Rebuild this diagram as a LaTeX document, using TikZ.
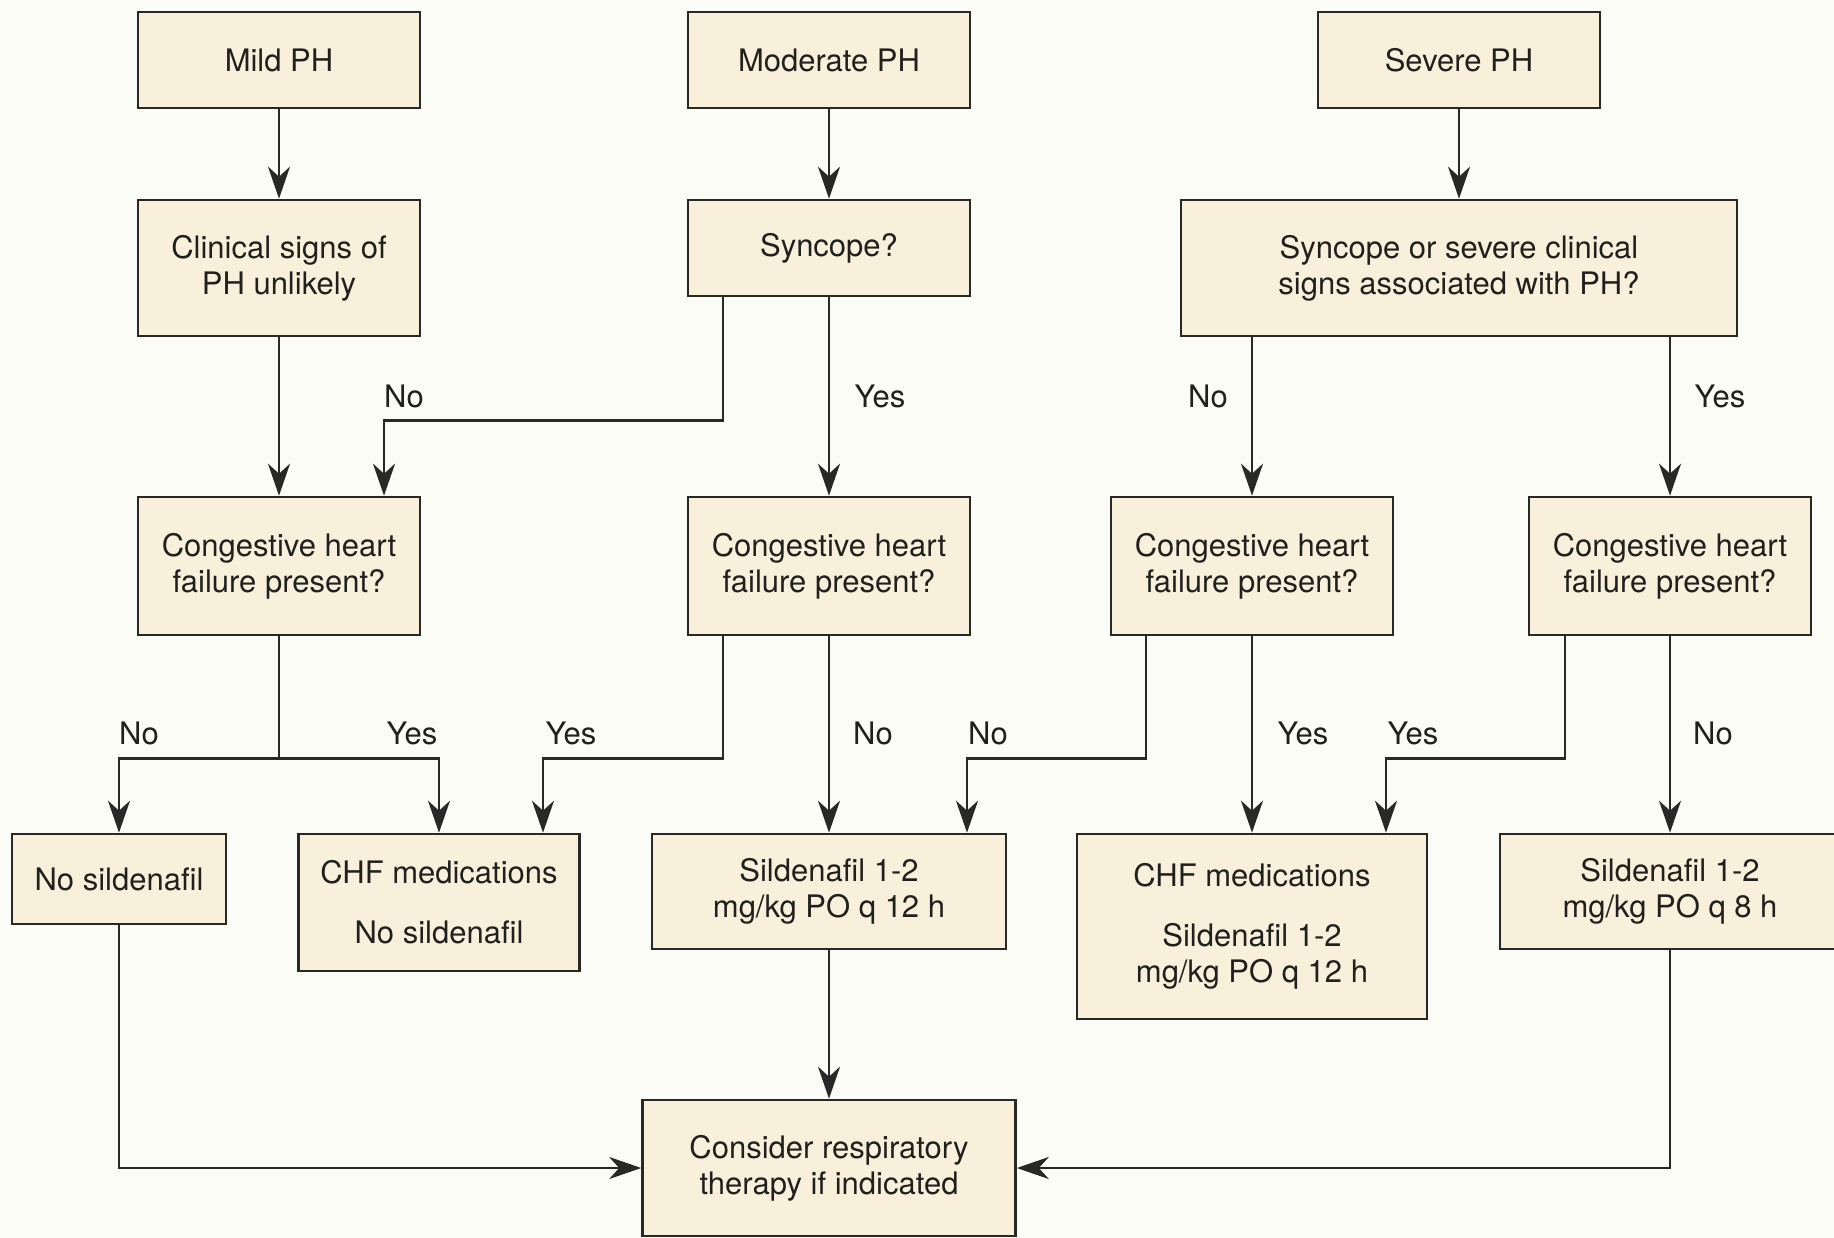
\documentclass[tikz,border=0pt]{standalone}
\usepackage{fontspec}
\setmainfont{TeX Gyre Heros}
\usetikzlibrary{arrows.meta}
\definecolor{bgcol}{RGB}{252,252,247}
\definecolor{boxfill}{RGB}{248,240,218}
\definecolor{linecol}{RGB}{40,40,38}
\definecolor{txtcol}{RGB}{32,32,30}
\begin{document}
\begin{tikzpicture}[x=1pt,y=-1pt,
  box/.style={draw=linecol,fill=boxfill,line width=2.6pt,inner sep=0pt,align=center,
    text=txtcol,font=\fontsize{31}{36}\selectfont},
  lbl/.style={text=txtcol,font=\fontsize{31}{36}\selectfont,inner sep=0pt},
  conn/.style={draw=linecol,line width=2.6pt},
  arr/.style={conn,-{Stealth[length=32pt,width=22pt,inset=10pt]}}]
\fill[bgcol] (0,0) rectangle (1834,1238);
\useasboundingbox (0,0) rectangle (1834,1238);
% top row
\node[box,minimum width=282pt,minimum height=96pt] (mild) at (279,60) {Mild PH};
\node[box,minimum width=282pt,minimum height=96pt] (mod) at (829,60) {Moderate PH};
\node[box,minimum width=282pt,minimum height=96pt] (sev) at (1459,60) {Severe PH};
% second row
\node[box,minimum width=282pt,minimum height=136pt] (clin) at (279,268) {Clinical signs of\\PH unlikely};
\node[box,minimum width=282pt,minimum height=96pt] (sync) at (829,248) {Syncope?};
\node[box,minimum width=556pt,minimum height=136pt] (sevq) at (1459,268) {Syncope or severe clinical\\signs associated with PH?};
% third row
\node[box,minimum width=282pt,minimum height=138pt] (chf1) at (279,566) {Congestive heart\\failure present?};
\node[box,minimum width=282pt,minimum height=138pt] (chf2) at (829,566) {Congestive heart\\failure present?};
\node[box,minimum width=282pt,minimum height=138pt] (chf3) at (1252,566) {Congestive heart\\failure present?};
\node[box,minimum width=282pt,minimum height=138pt] (chf4) at (1670,566) {Congestive heart\\failure present?};
% fourth row
\node[box,minimum width=214pt,minimum height=90pt] (nosil) at (119,879) {No sildenafil};
\node[box,minimum width=281pt,minimum height=137pt] (chfno) at (439,902.5) {CHF medications\\[24pt]No sildenafil};
\node[box,minimum width=354pt,minimum height=115pt] (sil12) at (829,891.5) {Sildenafil 1-2\\mg/kg PO q 12 h};
\node[box,minimum width=350pt,minimum height=185pt] (chfsil) at (1252,926.5) {CHF medications\\[24pt]Sildenafil 1-2\\mg/kg PO q 12 h};
\node[box,minimum width=340pt,minimum height=115pt] (sil8) at (1670,891.5) {Sildenafil 1-2\\mg/kg PO q 8 h};
% bottom
\node[box,minimum width=373pt,minimum height=136pt] (cons) at (829,1168) {Consider respiratory\\therapy if indicated};
% connectors
\draw[arr] (mild) -- (clin);
\draw[arr] (mod) -- (sync);
\draw[arr] (sev) -- (sevq);
\draw[arr] (clin) -- (chf1);
\draw[arr] ([xshift=-106pt]sync.south) -- ++(0,123) -| ([xshift=105pt]chf1.north);
\draw[arr] (sync) -- (chf2);
\draw[arr] (sevq.south -| chf3.north) -- (chf3.north);
\draw[arr] (sevq.south -| chf4.north) -- (chf4.north);
\draw[conn] (chf1.south) -- ++(0,122) coordinate (j1);
\draw[arr] (j1) -| (nosil.north);
\draw[arr] (j1) -| (chfno.north);
\draw[arr] ([xshift=-106pt]chf2.south) -- ++(0,122) -| ([xshift=104pt]chfno.north);
\draw[arr] (chf2) -- (sil12);
\draw[arr] ([xshift=-106pt]chf3.south) -- ++(0,122) -| ([xshift=138pt]sil12.north);
\draw[arr] (chf3) -- (chfsil);
\draw[arr] ([xshift=-105pt]chf4.south) -- ++(0,122) -| ([xshift=134pt]chfsil.north);
\draw[arr] (chf4) -- (sil8);
\draw[arr] (sil12) -- (cons);
\draw[arr] (nosil.south) |- (cons.west);
\draw[arr] (sil8.south) |- (cons.east);
% labels
\node[lbl] (l1) at (404,396) {No};
\node[lbl] (l2) at (880,396) {Yes};
\node[lbl] (l3) at (1208,396) {No};
\node[lbl] (l4) at (1720,396) {Yes};
\node[lbl] (l5) at (139,733) {No};
\node[lbl] (l6) at (412,733) {Yes};
\node[lbl] (l7) at (571,733) {Yes};
\node[lbl] (l8) at (873,733) {No};
\node[lbl] (l9) at (988,733) {No};
\node[lbl] (l10) at (1303,733) {Yes};
\node[lbl] (l11) at (1413,733) {Yes};
\node[lbl] (l12) at (1713,733) {No};
\end{tikzpicture}
\end{document}
